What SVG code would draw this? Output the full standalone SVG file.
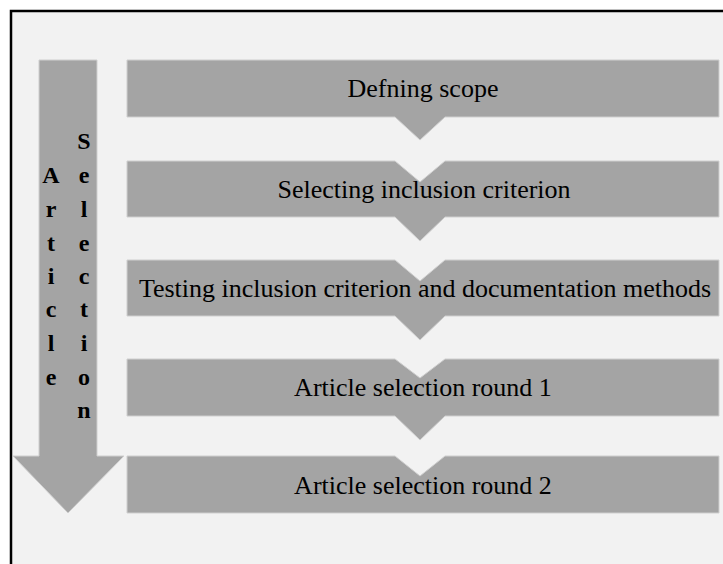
<svg xmlns="http://www.w3.org/2000/svg" width="723" height="564" viewBox="0 0 723 564">
  <style>
    .step { fill: #a4a4a4; stroke: #cfcfcf; stroke-width: 1; }
    .label { font-family: "Liberation Serif", "Times New Roman", serif; font-size: 26px; fill: #000; text-anchor: middle; }
    .vert { font-family: "Liberation Serif", "Times New Roman", serif; font-size: 24px; font-weight: bold; fill: #000; text-anchor: middle; }
  </style>
  <rect x="0" y="0" width="723" height="564" fill="#ffffff"/>
  <rect x="11" y="11" width="730" height="570" fill="#f2f2f2" stroke="#000" stroke-width="2.5"/>

  <g id="article-selection-arrow">
    <polygon class="step" points="39,60 97,60 97,456 124,456 68,513 13,456 39,456"/>
    <text class="vert" x="51" y="183">A</text>
    <text class="vert" x="51" y="217">r</text>
    <text class="vert" x="51" y="251">t</text>
    <text class="vert" x="51" y="284">i</text>
    <text class="vert" x="51" y="317">c</text>
    <text class="vert" x="51" y="351">l</text>
    <text class="vert" x="51" y="385">e</text>
    <text class="vert" x="84" y="149">S</text>
    <text class="vert" x="84" y="183">e</text>
    <text class="vert" x="84" y="217">l</text>
    <text class="vert" x="84" y="251">e</text>
    <text class="vert" x="84" y="284">c</text>
    <text class="vert" x="84" y="317">t</text>
    <text class="vert" x="84" y="351">i</text>
    <text class="vert" x="84" y="385">o</text>
    <text class="vert" x="84" y="418">n</text>
  </g>

  <g id="connectors"></g>

  <g id="step1">
    <polygon class="step" points="127,60 719,60 719,117 445,117 420,140 395,117 127,117"/>
    <text class="label" x="423" y="97">Defning scope</text>
  </g>
  <g id="step2">
    <polygon class="step" points="127,161 395,161 420,182 445,161 719,161 719,217 445,217 420,241 395,217 127,217"/>
    <text class="label" x="424" y="198">Selecting inclusion criterion</text>
  </g>
  <g id="step3">
    <polygon class="step" points="127,260 395,260 420,281 445,260 719,260 719,316 445,316 420,340 395,316 127,316"/>
    <text class="label" x="425" y="297">Testing inclusion criterion and documentation methods</text>
  </g>
  <g id="step4">
    <polygon class="step" points="127,359 395,359 420,378 445,359 719,359 719,416 445,416 420,440 395,416 127,416"/>
    <text class="label" x="423" y="396">Article selection round 1</text>
  </g>
  <g id="step5">
    <polygon class="step" points="127,456 395,456 420,476 445,456 719,456 719,513 127,513"/>
    <text class="label" x="423" y="494">Article selection round 2</text>
  </g>
</svg>
